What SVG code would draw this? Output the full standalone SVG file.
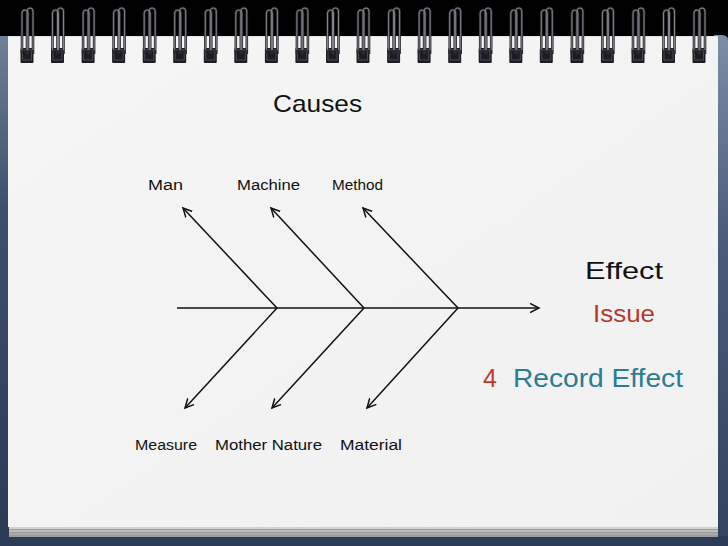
<svg xmlns="http://www.w3.org/2000/svg" xmlns:xlink="http://www.w3.org/1999/xlink" width="728" height="546" viewBox="0 0 728 546">
  <style>
    .t { font-family: "Liberation Sans", "DejaVu Sans", sans-serif; fill: #111; }
    .small { font-size: 14px; }
    .bone { stroke: #111; stroke-width: 1.5; fill: none; }
    .wire { fill: none; stroke: #2a2a30; stroke-width: 2.6; }
    .wirehi { fill: none; stroke: #8c8c94; stroke-width: 0.9; }
  </style>
  <defs>
    <marker id="arr" markerUnits="userSpaceOnUse" markerWidth="14" markerHeight="14" refX="9" refY="5" orient="auto" viewBox="0 0 14 10">
      <path d="M0,0.5 L9,5 L0,9.5" fill="none" stroke="#111" stroke-width="1.5"/>
    </marker>
    <linearGradient id="leftStrip" x1="0" y1="0" x2="0" y2="1">
      <stop offset="0" stop-color="#6f7f96"/>
      <stop offset="0.35" stop-color="#3e4f6c"/>
      <stop offset="1" stop-color="#2b3a55"/>
    </linearGradient>
    <linearGradient id="rightStrip" x1="0" y1="0" x2="0" y2="1">
      <stop offset="0" stop-color="#7d8ea6"/>
      <stop offset="0.4" stop-color="#4a5c7a"/>
      <stop offset="1" stop-color="#33445f"/>
    </linearGradient>
    <linearGradient id="paper" x1="0" y1="0" x2="1" y2="1">
      <stop offset="0" stop-color="#f5f5f5"/>
      <stop offset="1" stop-color="#f1f1f1"/>
    </linearGradient>
    <g id="ring">
      <rect x="-6.5" y="48" width="13" height="15" fill="#1c1c22" rx="1"/>
      <rect x="-4.5" y="50" width="9" height="10" fill="none" stroke="#4a4a55" stroke-width="1"/>
      <path class="wire" d="M-5,54 V13 A3,3 0 0 1 1,13 V54"/>
      <path class="wire" d="M0,54 V11 A3,3 0 0 1 6,11 V54"/>
      <path class="wirehi" d="M-5,50 V13 A3,3 0 0 1 1,13 V50"/>
      <path class="wirehi" d="M0,50 V11 A3,3 0 0 1 6,11 V50"/>
    </g>
  </defs>

  <!-- background -->
  <rect x="0" y="0" width="728" height="546" fill="#2c3b56"/>
  <rect x="0" y="0" width="728" height="37" fill="#000"/>
  <rect x="0" y="36" width="9" height="500" fill="url(#leftStrip)"/>
  <path d="M714,35 H722 Q728,35 728,41 V536 H714 Z" fill="url(#rightStrip)"/>

  <!-- page edges -->
  <rect x="9" y="526" width="709" height="11" fill="#9c9c9c"/>
  <rect x="9" y="527" width="709" height="2" fill="#d2d2d2"/>
  <rect x="9" y="530" width="709" height="2" fill="#bdbdbd"/>
  <rect x="9" y="533" width="709" height="2" fill="#aaaaaa"/>

  <!-- paper -->
  <rect x="8" y="36" width="710" height="491" fill="url(#paper)"/>
  <line x1="8" y1="36.5" x2="718" y2="36.5" stroke="#e2e2e2" stroke-width="1"/>

  <!-- rings -->
  <g id="rings">
    <use xlink:href="#ring" x="27"/>
    <use xlink:href="#ring" x="57.5"/>
    <use xlink:href="#ring" x="88.1"/>
    <use xlink:href="#ring" x="118.6"/>
    <use xlink:href="#ring" x="149.2"/>
    <use xlink:href="#ring" x="179.7"/>
    <use xlink:href="#ring" x="210.3"/>
    <use xlink:href="#ring" x="240.8"/>
    <use xlink:href="#ring" x="271.4"/>
    <use xlink:href="#ring" x="301.9"/>
    <use xlink:href="#ring" x="332.5"/>
    <use xlink:href="#ring" x="363"/>
    <use xlink:href="#ring" x="393.6"/>
    <use xlink:href="#ring" x="424.1"/>
    <use xlink:href="#ring" x="454.7"/>
    <use xlink:href="#ring" x="485.2"/>
    <use xlink:href="#ring" x="515.8"/>
    <use xlink:href="#ring" x="546.3"/>
    <use xlink:href="#ring" x="576.9"/>
    <use xlink:href="#ring" x="607.4"/>
    <use xlink:href="#ring" x="638"/>
    <use xlink:href="#ring" x="668.5"/>
    <use xlink:href="#ring" x="699"/>
  </g>

  <!-- connectors -->
  <g id="connectors">
    <line class="bone" x1="177" y1="308" x2="539" y2="308" marker-end="url(#arr)"/>
    <line class="bone" x1="277" y1="308" x2="183" y2="208" marker-end="url(#arr)"/>
    <line class="bone" x1="364" y1="308" x2="271" y2="208" marker-end="url(#arr)"/>
    <line class="bone" x1="458" y1="308" x2="363" y2="208" marker-end="url(#arr)"/>
    <line class="bone" x1="277" y1="308" x2="185" y2="408" marker-end="url(#arr)"/>
    <line class="bone" x1="364" y1="308" x2="272" y2="408" marker-end="url(#arr)"/>
    <line class="bone" x1="458" y1="308" x2="367" y2="408" marker-end="url(#arr)"/>
  </g>

  <!-- labels / nodes -->
  <g id="title"><text class="t" x="273" y="112" font-size="24" textLength="89" lengthAdjust="spacingAndGlyphs">Causes</text></g>
  <g id="man"><text class="t small" x="148" y="190" textLength="35" lengthAdjust="spacingAndGlyphs">Man</text></g>
  <g id="machine"><text class="t small" x="237" y="190" textLength="63" lengthAdjust="spacingAndGlyphs">Machine</text></g>
  <g id="method"><text class="t small" x="332" y="190" textLength="51" lengthAdjust="spacingAndGlyphs">Method</text></g>
  <g id="measure"><text class="t small" x="135" y="450" textLength="62" lengthAdjust="spacingAndGlyphs">Measure</text></g>
  <g id="mother-nature"><text class="t small" x="215" y="450" textLength="107" lengthAdjust="spacingAndGlyphs">Mother Nature</text></g>
  <g id="material"><text class="t small" x="340" y="450" textLength="62" lengthAdjust="spacingAndGlyphs">Material</text></g>
  <g id="effect"><text class="t" x="585" y="279" font-size="24" textLength="78" lengthAdjust="spacingAndGlyphs">Effect</text></g>
  <g id="issue"><text class="t" x="593" y="322" font-size="23" fill="#b5392a" style="fill:#b5392a" textLength="62" lengthAdjust="spacingAndGlyphs">Issue</text></g>
  <g id="record-effect">
    <text class="t" x="483" y="387" font-size="25" style="fill:#c0392b">4</text>
    <text class="t" x="513" y="387" font-size="25" style="fill:#2a7d93" textLength="170" lengthAdjust="spacingAndGlyphs">Record Effect</text>
  </g>
</svg>
